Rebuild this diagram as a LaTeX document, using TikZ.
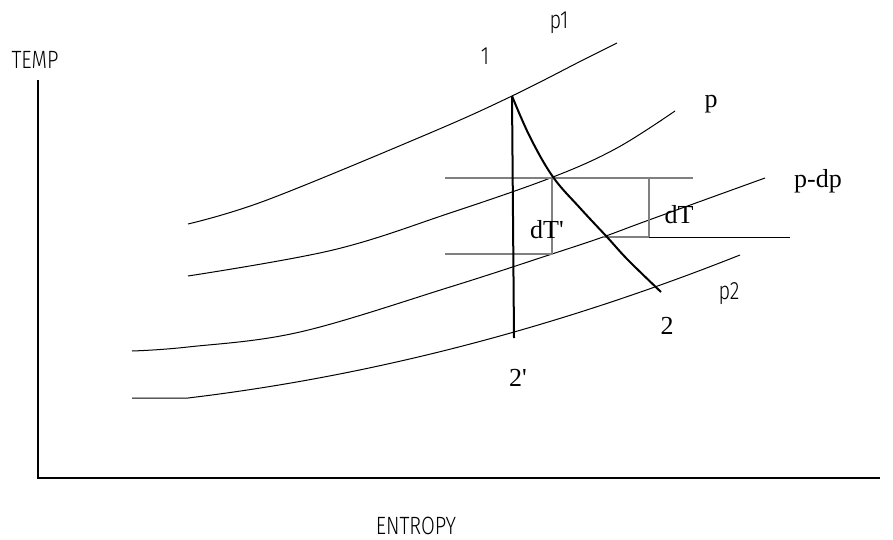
\documentclass[tikz,border=0pt]{standalone}
\usepackage{fontspec}
\newfontfamily\labsans[FakeStretch=0.8]{Fira Sans Light}
\newfontfamily\labserif{Liberation Serif}
\begin{document}
\begin{tikzpicture}[x=1pt,y=-1pt,
  curve/.style={line width=1pt,black},
  thick line/.style={line width=2pt,black,line join=round},
  guide/.style={line width=1.3pt,black!50},
  axis/.style={line width=2pt,black},
  sanslab/.style={font=\labsans\fontsize{25}{29}\selectfont,inner sep=0pt,anchor=base},
  seriflab/.style={font=\labserif\fontsize{26}{30}\selectfont,inner sep=0pt,anchor=base}]
\useasboundingbox (0,0) rectangle (893,540);
% axes
\coordinate (ytop) at (38,80);
\coordinate (orig) at (38,478);
\coordinate (xend) at (880,478);
\draw[axis] (ytop) -- (orig) -- (xend);
% key points
\coordinate (s1) at (512,96);
\coordinate (s2) at (661,292);
\coordinate (s2p) at (514,338);
% isobars
\draw[curve] plot[smooth,tension=0.6] coordinates {(188,224) (267,200) (430,133) (s1) (583,60) (617,43)};
\draw[curve] plot[smooth,tension=0.6] coordinates {(188,276) (333,250) (450,213) (553,177) (617,148) (675,111)};
\draw[curve] plot[smooth,tension=0.6] coordinates {(132,351) (188,347) (300,332) (450,287) (552,254) (603,237) (649,220) (765,178)};
\draw[curve] (132,398) -- (188,398) .. controls (372,376) and (556,328) .. (740,255);
% guide lines
\coordinate (gA) at (445,178);
\coordinate (gB) at (693,178);
\coordinate (gC) at (445,254);
\coordinate (gD) at (552,254);
\coordinate (gE) at (552,178);
\coordinate (gF) at (649,178);
\coordinate (gG) at (649,237);
\coordinate (gH) at (603,237);
\coordinate (gI) at (790,237);
\draw[guide] (gA) -- (gB);
\draw[guide] (gC) -- (gD);
\draw[guide] (gE) -- (gD);
\draw[guide] (gF) -- (gG);
\draw[guide] (gH) -- (gG);
\draw[curve] (gG) -- (gI);
% expansion lines
\draw[thick line] (s1) -- (s2p);
\draw[thick line] plot[smooth,tension=0.6] coordinates {(s1) (530,137) (553,177) (580,208) (607,237) (628,260) (s2)};
% labels
\node[sanslab] (temp) at (35,69) {TEMP};
\node[sanslab] (entropy) at (416,534) {ENTROPY};
\node[sanslab] (l1) at (485,65) {1};
\node[sanslab] (lp1) at (559,29) {p1};
\node[sanslab] (lp2) at (729,299) {p2};
\node[seriflab] (lp) at (711,108) {p};
\node[seriflab] (lpdp) at (818,187) {p-dp};
\node[seriflab] (ldT) at (679,223) {dT};
\node[seriflab] (ldTp) at (547,238) {dT'};
\node[seriflab] (l2) at (667,334) {2};
\node[seriflab] (l2p) at (518,386) {2'};
\end{tikzpicture}
\end{document}
